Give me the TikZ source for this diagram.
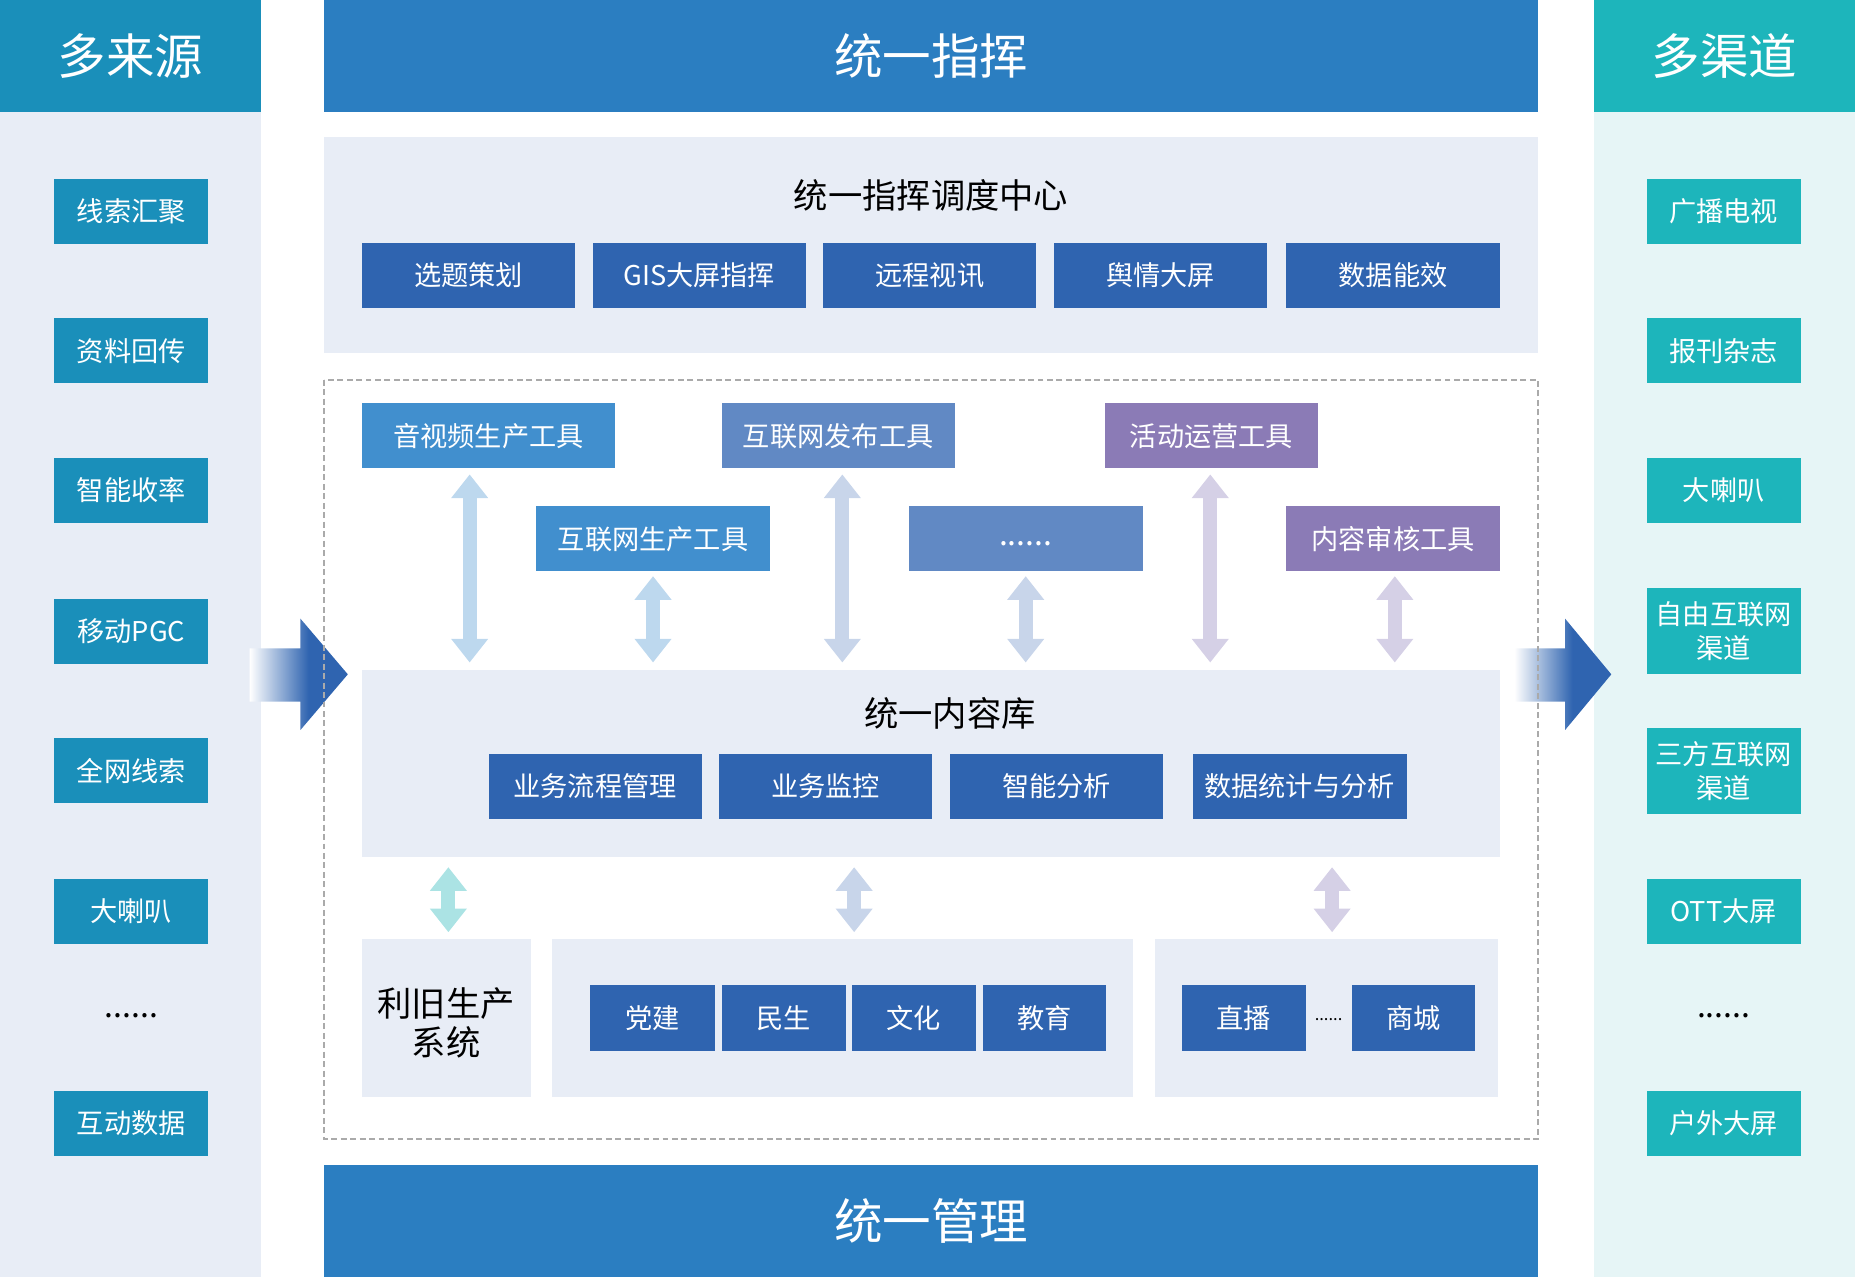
\documentclass[tikz,border=0pt]{standalone}
\usepackage{fontspec}
\setmainfont{Noto Sans CJK SC}
\usetikzlibrary{arrows.meta}
\definecolor{srcblue}{HTML}{1A8FBA}
\definecolor{srcbg}{HTML}{E8EDF6}
\definecolor{topblue}{HTML}{2B7EC1}
\definecolor{panel}{HTML}{E8EDF6}
\definecolor{darkbtn}{HTML}{2F64B0}
\definecolor{toolA}{HTML}{418FCE}
\definecolor{toolB}{HTML}{6189C4}
\definecolor{toolC}{HTML}{8B7BB6}
\definecolor{arrA}{HTML}{BDD8EE}
\definecolor{arrB}{HTML}{C8D5EA}
\definecolor{arrC}{HTML}{D5D0E6}
\definecolor{arrT}{HTML}{ABE3E4}
\definecolor{chteal}{HTML}{1DB5BB}
\definecolor{chbg}{HTML}{E6F5F6}
\definecolor{dashgray}{HTML}{AAAAAA}
\pgfdeclarehorizontalshading{bigarr}{100bp}{color(0bp)=(white); color(25bp)=(white); color(55bp)=(darkbtn); color(100bp)=(darkbtn)}
\newcommand{\mkbox}[7]{\node[box,#6,minimum width={(#4-#2)*1pt},minimum height={(#5-#3)*1pt}] (#1) at ({(#2+#4)/2},{(#3+#5)/2}) {#7};}
\begin{document}
\begin{tikzpicture}[x=1pt,y=-1pt,
  box/.style={inner sep=0pt,outer sep=0pt,text=white,align=center,font=\fontsize{23}{29}\selectfont},
  big/.style={font=\fontsize{41}{48}\selectfont},
  dbl/.style={line width=12pt,{Triangle[width=30pt,length=20pt]}-{Triangle[width=30pt,length=20pt]}},
  lbl/.style={inner sep=0pt,text=black,align=center},
  dots/.style={inner sep=0pt,text=black,anchor=base,font=\fontsize{27}{30}\selectfont}]
\useasboundingbox (0,0) rectangle (1568,1079);
% columns
\mkbox{srcbody}{0}{95}{221}{1079}{fill=srcbg}{}
\mkbox{srchead}{0}{0}{221}{95}{fill=srcblue,big}{多来源}
\mkbox{chbody}{1347}{95}{1568}{1079}{fill=chbg}{}
\mkbox{chhead}{1347}{0}{1568}{95}{fill=chteal,big}{多渠道}
\mkbox{tophead}{274}{0}{1300}{95}{fill=topblue,big}{统一指挥}
\mkbox{bothead}{274}{985}{1300}{1079}{fill=topblue,big}{统一管理}
% source items
\mkbox{s1}{46}{151}{176}{206}{fill=srcblue}{线索汇聚}
\mkbox{s2}{46}{269}{176}{324}{fill=srcblue}{资料回传}
\mkbox{s3}{46}{387}{176}{442}{fill=srcblue}{智能收率}
\mkbox{s4}{46}{506}{176}{561}{fill=srcblue}{移动PGC}
\mkbox{s5}{46}{624}{176}{679}{fill=srcblue}{全网线索}
\mkbox{s6}{46}{743}{176}{798}{fill=srcblue}{大喇叭}
\node[dots] (s7) at (111,860) {......};
\mkbox{s8}{46}{922}{176}{977}{fill=srcblue}{互动数据}
% channel items
\mkbox{c1}{1392}{151}{1522}{206}{fill=chteal}{广播电视}
\mkbox{c2}{1392}{269}{1522}{324}{fill=chteal}{报刊杂志}
\mkbox{c3}{1392}{387}{1522}{442}{fill=chteal}{大喇叭}
\mkbox{c4}{1392}{497}{1522}{570}{fill=chteal}{自由互联网\\渠道}
\mkbox{c5}{1392}{615}{1522}{688}{fill=chteal}{三方互联网\\渠道}
\mkbox{c6}{1392}{743}{1522}{798}{fill=chteal}{OTT大屏}
\node[dots] (c7) at (1457,860) {......};
\mkbox{c8}{1392}{922}{1522}{977}{fill=chteal}{户外大屏}
% big arrows
\shade[shading=bigarr] (211,548) -- (254,548) -- (254,523) -- (294,570) -- (254,617) -- (254,593) -- (211,593) -- cycle;
\shade[shading=bigarr] (1280,548) -- (1323,548) -- (1323,523) -- (1362,570) -- (1323,617) -- (1323,593) -- (1280,593) -- cycle;
% command centre
\mkbox{cmd}{274}{116}{1300}{298}{fill=panel}{}
\node[lbl,font=\fontsize{29}{34}\selectfont] (cmdt) at (787,165) {统一指挥调度中心};
\mkbox{b1}{306}{205}{486}{260}{fill=darkbtn}{选题策划}
\mkbox{b2}{501}{205}{681}{260}{fill=darkbtn}{GIS大屏指挥}
\mkbox{b3}{696}{205}{876}{260}{fill=darkbtn}{远程视讯}
\mkbox{b4}{891}{205}{1071}{260}{fill=darkbtn}{舆情大屏}
\mkbox{b5}{1087}{205}{1268}{260}{fill=darkbtn}{数据能效}
% dashed frame
\draw[dashgray,line width=1.6pt,dash pattern=on 5pt off 3pt] (274,321) rectangle (1300,963);
% tools
\mkbox{t1}{306}{341}{520}{396}{fill=toolA}{音视频生产工具}
\mkbox{t3}{610}{341}{807}{396}{fill=toolB}{互联网发布工具}
\mkbox{t5}{934}{341}{1114}{396}{fill=toolC}{活动运营工具}
\mkbox{t2}{453}{428}{651}{483}{fill=toolA}{互联网生产工具}
\mkbox{t4}{768}{428}{966}{483}{fill=toolB}{}
\node[dots,text=white] (t4d) at (867,461) {......};
\mkbox{t6}{1087}{428}{1268}{483}{fill=toolC}{内容审核工具}
% content library
\mkbox{lib}{306}{566}{1268}{724}{fill=panel}{}
\node[lbl,font=\fontsize{29}{34}\selectfont] (libt) at (803,603) {统一内容库};
\mkbox{l1}{413}{637}{593}{692}{fill=darkbtn}{业务流程管理}
\mkbox{l2}{608}{637}{788}{692}{fill=darkbtn}{业务监控}
\mkbox{l3}{803}{637}{983}{692}{fill=darkbtn}{智能分析}
\mkbox{l4}{1008}{637}{1189}{692}{fill=darkbtn}{数据统计与分析}
% tool arrows
\draw[dbl,arrA,shorten <=5pt,shorten >=6pt] ([xshift=-16pt]t1.south) -- ([xshift=-16pt]t1.south |- lib.north);
\draw[dbl,arrA,shorten <=4pt,shorten >=6pt] (t2.south) -- (t2.south |- lib.north);
\draw[dbl,arrB,shorten <=5pt,shorten >=6pt] ([xshift=3.5pt]t3.south) -- ([xshift=3.5pt]t3.south |- lib.north);
\draw[dbl,arrB,shorten <=4pt,shorten >=6pt] (t4.south) -- (t4.south |- lib.north);
\draw[dbl,arrC,shorten <=5pt,shorten >=6pt] ([xshift=-1pt]t5.south) -- ([xshift=-1pt]t5.south |- lib.north);
\draw[dbl,arrC,shorten <=4pt,shorten >=6pt] ([xshift=1.5pt]t6.south) -- ([xshift=1.5pt]t6.south |- lib.north);
% bottom panels
\mkbox{p1}{306}{794}{449}{927}{fill=panel}{}
\node[lbl,font=\fontsize{29}{33}\selectfont] (p1t) at (377,865) {利旧生产\\系统};
\mkbox{p2}{467}{794}{958}{927}{fill=panel}{}
\mkbox{p3}{976}{794}{1266}{927}{fill=panel}{}
\mkbox{g1}{499}{833}{604}{888}{fill=darkbtn}{党建}
\mkbox{g2}{610}{833}{715}{888}{fill=darkbtn}{民生}
\mkbox{g3}{720}{833}{825}{888}{fill=darkbtn}{文化}
\mkbox{g4}{831}{833}{935}{888}{fill=darkbtn}{教育}
\mkbox{h1}{999}{833}{1104}{888}{fill=darkbtn}{直播}
\node[dots,font=\fontsize{14}{16}\selectfont] (hdots) at (1123,863) {......};
\mkbox{h2}{1143}{833}{1247}{888}{fill=darkbtn}{商城}
% library to panels arrows
\draw[dbl,arrT,shorten <=9pt,shorten >=6pt] ([xshift=1.5pt]p1.north |- lib.south) -- ([xshift=1.5pt]p1.north);
\draw[dbl,arrB,shorten <=9pt,shorten >=6pt] ([xshift=9.5pt]p2.north |- lib.south) -- ([xshift=9.5pt]p2.north);
\draw[dbl,arrC,shorten <=9pt,shorten >=6pt] ([xshift=5pt]p3.north |- lib.south) -- ([xshift=5pt]p3.north);
\end{tikzpicture}
\end{document}
